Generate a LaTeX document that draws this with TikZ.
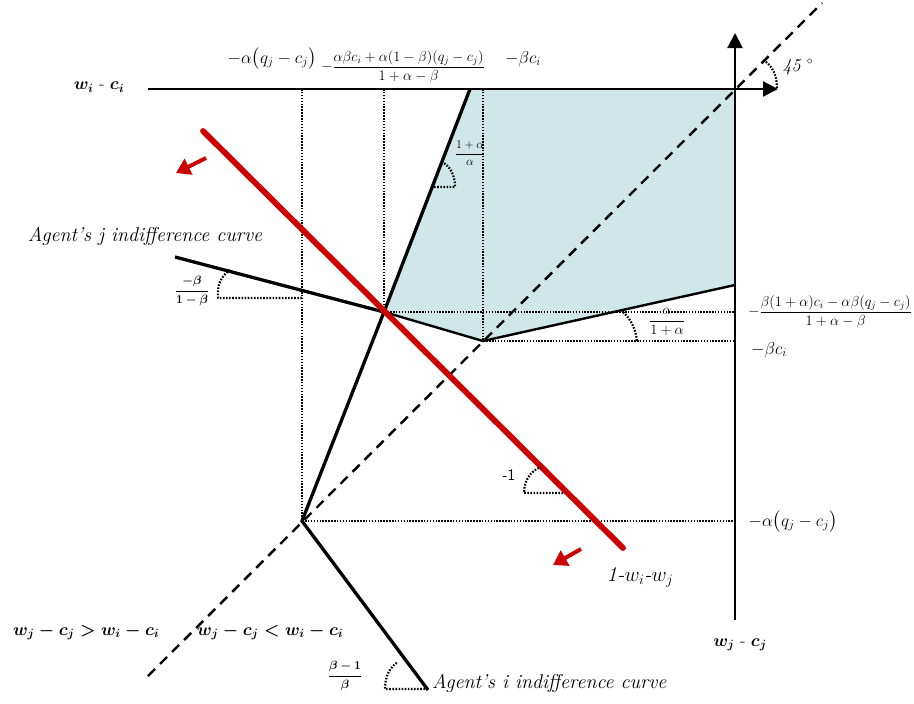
\documentclass[tikz,border=0pt]{standalone}
\usepackage{amsmath,amssymb}
\usepackage{tikz}
\usetikzlibrary{arrows.meta,positioning}
\definecolor{paleteal}{RGB}{207,231,233}
\definecolor{budgetred}{RGB}{204,0,0}
\newcommand{\qmc}{\bigl(q_j-c_j\bigr)}
\tikzset{
  axl/.style={draw, line width=2.2pt, -{Triangle[length=15pt,width=15pt]}},
  icl/.style={draw, line width=3.3pt},
  bnd/.style={draw, line width=2.4pt},
  dotl/.style={draw, line width=1.8pt, dash pattern=on 1.5pt off 1.4pt},
  angl/.style={draw, line width=2.2pt, dash pattern=on 1.6pt off 1.5pt},
  diag/.style={draw, line width=2.4pt, dash pattern=on 10pt off 7pt},
  mvarr/.style={draw=budgetred, line width=4pt, -{Triangle[length=14pt,width=17pt]}},
  lbl/.style={inner sep=1pt, font=\fontsize{15}{17}\selectfont},
  lbw/.style={inner sep=1pt, font=\fontsize{18}{20}\selectfont},
  lbig/.style={inner sep=1pt, font=\fontsize{18}{21}\selectfont},
  lfr/.style={inner sep=1pt, font=\fontsize{14}{16}\selectfont},
  lsm/.style={inner sep=1pt, font=\fontsize{13}{15}\selectfont},
  capt/.style={inner sep=1pt, font=\fontsize{20}{22}\selectfont\itshape}
}

\begin{document}
\begin{tikzpicture}[x=1pt, y=-1pt]
\useasboundingbox (0,0) rectangle (914,704);
% corners of the set
\coordinate (O) at (735,89);
\coordinate (Ptop) at (470,89);
\coordinate (Pj) at (384,312);
\coordinate (Pk) at (483,341);
\coordinate (Pr) at (735,285);
\coordinate (Pi) at (302,521);
% free ends
\coordinate (wst) at (148,89);
\coordinate (xend) at (778,89);
\coordinate (ybot) at (735,620);
\coordinate (yend) at (735,33);
\coordinate (d1) at (148,676);
\coordinate (d2) at (822,3);
\coordinate (jst) at (175,257);
\coordinate (iend) at (428,690);
\coordinate (r1) at (203,131);
\coordinate (r2) at (623,548);
\coordinate (a1s) at (206,158);
\coordinate (a1e) at (176,173);
\coordinate (a2s) at (581,549);
\coordinate (a2e) at (553,565);

\fill[paleteal] (Ptop) -- (O) -- (Pr) -- (Pk) -- (Pj) -- cycle;

% dotted guides
\draw[dotl] (Pi |- O) -- (Pi) -- (O |- Pi);
\draw[dotl] (Pj |- O) -- (Pj) -- (O |- Pj);
\draw[dotl] (Pk |- O) -- (Pk) -- (O |- Pk);

\draw[diag] (d1) -- (d2);
\draw[axl] (wst) -- (xend);
\draw[axl] (ybot) -- (yend);

% indifference curves
\draw[icl] (Ptop) -- (Pj) -- (Pi) -- (iend);
\draw[icl] (jst) -- (Pj);
\draw[bnd] (Pj) -- (Pk) -- (Pr);

\draw[budgetred, line width=5.8pt, line cap=round] (r1) -- (r2);
\draw[mvarr] (a1s) -- (a1e);
\draw[mvarr] (a2s) -- (a2e);

% angle marks
\draw[angl] (302,298) -- (218,298) .. controls (217,285) and (221,276) .. (230,270);
\draw[angl] (431,187) -- (455,187) .. controls (455,175) and (450,166) .. (442,162);
\draw[angl] (623,312) .. controls (631,319) and (636,330) .. (637,341);
\draw[angl] (563,493) -- (524,493) .. controls (524,481) and (530,471) .. (541,467);
\draw[angl] (428,689) -- (385,689) .. controls (385,676) and (390,667) .. (398,662);
\draw[angl] (777,88) .. controls (777,75) and (772,65) .. (763,60);

% labels
\node[lbw] (wi) at (99,87) {$\boldsymbol{w_i}$ - $\boldsymbol{c_i}$};
\node[lbig] (tq) at (272,59) {$-\alpha\qmc$};
\node[lfr] (tf) at (403,67) {$-\dfrac{\alpha\beta c_i+\alpha(1-\beta)(q_j-c_j)}{1+\alpha-\beta}$};
\node[lbig] (tb) at (523,59) {$-\beta c_i$};
\node[lfr] (rf) at (830,312) {$-\dfrac{\beta(1+\alpha)c_i-\alpha\beta(q_j-c_j)}{1+\alpha-\beta}$};
\node[lbig] (rb) at (769,350) {$-\beta c_i$};
\node[lbig] (rq) at (793,522) {$-\alpha\qmc$};
\node[lbw] (wj) at (740,645) {$\boldsymbol{w_j}$ - $\boldsymbol{c_j}$};
\node[lbw] (deg) at (798,67) {\itshape 45 $^\circ$};

\node[lsm] (sj) at (192,291) {$\boldsymbol{\dfrac{-\beta}{1-\beta}}$};
\node[lsm] (su) at (470,153) {$\dfrac{1+\alpha}{\alpha}$};
\node[lsm, font=\fontsize{14}{16}\selectfont] (sk) at (667,322) {$\dfrac{\alpha}{1+\alpha}$};
\node[lsm] (si) at (345,676) {$\boldsymbol{\dfrac{\beta-1}{\beta}}$};
\node[lbl, font=\sffamily\fontsize{16}{18}\selectfont] (m1) at (509,475) {-1};

\node[capt] (cj) at (145,236) {Agent's j indifference curve};
\node[capt, anchor=west] (ci) at (431,683) {Agent's i indifference curve};
\node[capt, font=\fontsize{21}{23}\selectfont\itshape] (bl) at (640,577) {1-$w_i$-$w_j$};

\node[lbw, anchor=west] (gt) at (12,632) {$\boldsymbol{w_j- c_j > w_i-c_i}$};
\node[lbw, anchor=west] (lt) at (196,632) {$\boldsymbol{w_j - c_j < w_i - c_i}$};
\end{tikzpicture}
\end{document}
